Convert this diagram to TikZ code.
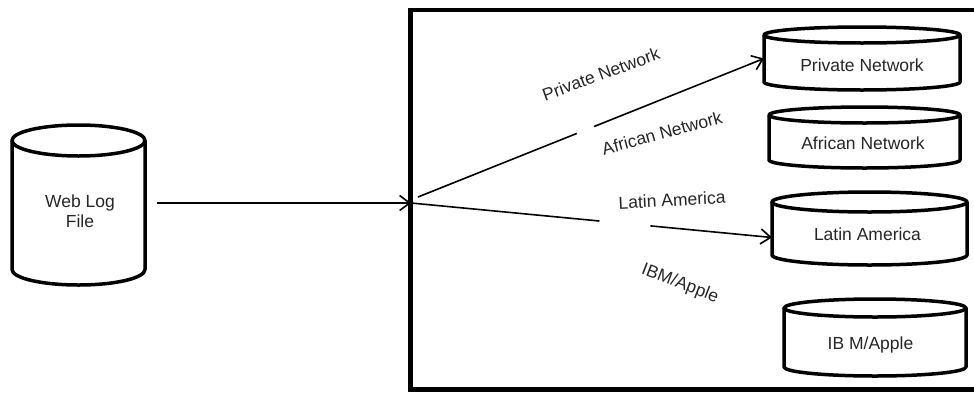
\documentclass[tikz,border=0pt]{standalone}
\usepackage{fontspec}
\setmainfont{Liberation Sans}
\usetikzlibrary{arrows.meta,calc}

% database drum: name, left x, right x, top y, bottom y, end radius
\newcommand\dbdrum[6]{%
  \pgfmathsetmacro\drumrx{(#3-#2)/2}%
  \pgfmathsetmacro\drumw{#3-#2}%
  \pgfmathsetmacro\drumh{#5-#4}%
  \draw[cylline] (#2,#4+#6) -- (#2,#5-#6)
    arc[start angle=180,end angle=360,x radius=\drumrx pt,y radius=#6pt]
    -- (#3,#4+#6);
  \draw[cylline] ({(#2+#3)/2},#4+#6) ellipse[x radius=\drumrx pt,y radius=#6pt];
  \node[body,minimum width=\drumw pt,minimum height=\drumh pt] (#1) at ({(#2+#3)/2},{(#4+#5)/2}) {};
}

\begin{document}
\begin{tikzpicture}[x=1pt,y=-1pt,
  cylline/.style={line width=3.5pt,line join=round},
  frame/.style={line width=4.5pt},
  link/.style={line width=1.6pt},
  tip/.style={-{Straight Barb[length=10pt,width=15pt,line width=1.6pt]}},
  body/.style={inner sep=0pt,outer sep=0pt},
  lbl/.style={font=\fontsize{17.5}{20}\selectfont,text=black!85,inner sep=0pt,align=center},
]
\path[use as bounding box,clip] (0,0) rectangle (974,394);

% enclosing region (runs off the right edge)
\node[draw,frame,body,anchor=north west,minimum width=580pt,minimum height=379.5pt] (region) at (410.5,10) {};

% source file
\dbdrum{web}{12}{145}{125}{285}{15.5}
\node[lbl] (web-t) at (80,211) {Web Log\\File};

% target stores
\dbdrum{pn}{764}{960}{27}{90}{8}
\node[lbl] (pn-t) at (862,65.5) {Private Network};
\dbdrum{an}{769}{960}{107}{168}{8}
\node[lbl] (an-t) at (863,143.5) {African Network};
\dbdrum{la}{772}{967}{192}{265}{10}
\node[lbl] (la-t) at (867.5,234.5) {Latin America};
\dbdrum{ibm}{784}{966}{299}{376}{9}
\node[lbl] (ibm-t) at (870.5,345) {IB M/Apple};

% routing
\coordinate (hub) at (411,203);
\coordinate (pstart) at (418,197);
\coordinate (laend) at ([yshift=-9pt]la.west);

\draw[link,tip,shorten <=12pt] (web.east |- hub) -- (hub);
\draw[link] (pstart) -- ($(pstart)!0.459!(pn.west)$);
\draw[link,tip] ($(pstart)!0.509!(pn.west)$) -- (pn.west);
\draw[link] (hub) -- ($(hub)!0.522!(laend)$);
\draw[link,tip] ($(hub)!0.663!(laend)$) -- (laend);

% route labels
\node[lbl,rotate=20] (pn-l) at (601,74) {Private Network};
\node[lbl,rotate=15] (an-l) at (662,133) {African Network};
\node[lbl,rotate=3] (la-l) at (672,200) {Latin America};
\node[lbl,rotate=-21] (ibm-l) at (680,284) {IBM/Apple};
\end{tikzpicture}
\end{document}
